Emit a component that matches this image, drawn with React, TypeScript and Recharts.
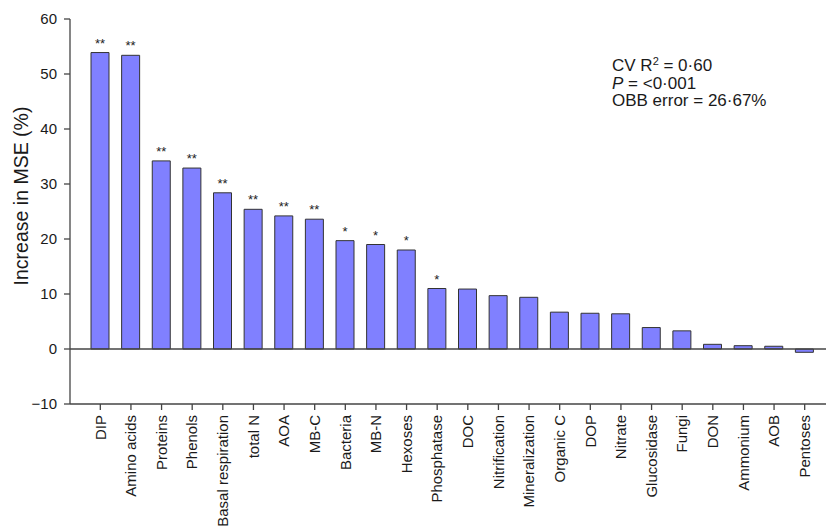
import { Bar, BarChart, LabelList, ReferenceLine, XAxis, YAxis } from "recharts";

const variables = [
  "DIP", "Amino acids", "Proteins", "Phenols", "Basal respiration", "total N",
  "AOA", "MB-C", "Bacteria", "MB-N", "Hexoses", "Phosphatase", "DOC",
  "Nitrification", "Mineralization", "Organic C", "DOP", "Nitrate",
  "Glucosidase", "Fungi", "DON", "Ammonium", "AOB", "Pentoses",
];

const mseIncrease = [
  53.9, 53.4, 34.2, 32.9, 28.4, 25.4, 24.2, 23.6, 19.7, 19.0, 18.0, 11.0,
  10.9, 9.7, 9.4, 6.7, 6.5, 6.4, 3.9, 3.3, 0.85, 0.6, 0.5, -0.6,
];

const significance = [
  "**", "**", "**", "**", "**", "**", "**", "**", "*", "*", "*", "*", "",
  "", "", "", "", "", "", "", "", "", "", "",
];

const yTicks = [-10, 0, 10, 20, 30, 40, 50, 60];

const data = variables.map((name, i) => ({
  name,
  value: mseIncrease[i],
  sig: significance[i],
}));

const FONT = "Arial, 'Liberation Sans', Helvetica, sans-serif";
const AXIS = "#444";

const XTick = ({ x, y, payload }: any) => (
  <text
    x={x}
    y={y}
    transform={`rotate(-90 ${x} ${y})`}
    textAnchor="end"
    dy="0.35em"
    fontSize={15}
    fontFamily={FONT}
    fill="#1a1a1a"
  >
    {payload.value}
  </text>
);

const YLabel = () => (
  <text
    transform="translate(21,196) rotate(-90)"
    textAnchor="middle"
    dominantBaseline="central"
    fontSize={19.5}
    fontFamily={FONT}
    fill="#1a1a1a"
  >
    Increase in MSE (%)
  </text>
);

export default function App() {
  return (
    <div style={{ position: "relative", width: 826, height: 527, background: "#fff" }}>
      <style>{"body{margin:0}"}</style>
      <BarChart
        width={826}
        height={527}
        data={data}
        margin={{ top: 19, right: 0, bottom: 3, left: 0 }}
      >
        <XAxis
          dataKey="name"
          interval={0}
          height={120}
          padding={{ left: 15, right: 6 }}
          tick={<XTick />}
          tickSize={6}
          tickMargin={5}
          axisLine={{ stroke: AXIS, strokeWidth: 1.3 }}
          tickLine={{ stroke: AXIS, strokeWidth: 1.3 }}
        />
        <YAxis
          width={70}
          domain={[-10, 60]}
          ticks={yTicks}
          interval={0}
          tickSize={6}
          tickMargin={7}
          tickFormatter={(v: number) => (v < 0 ? `\u2212${Math.abs(v)}` : `${v}`)}
          tick={{ fontSize: 15, fontFamily: FONT, fill: "#1a1a1a" }}
          axisLine={{ stroke: AXIS, strokeWidth: 1.3 }}
          tickLine={{ stroke: AXIS, strokeWidth: 1.3 }}
          label={<YLabel />}
        />
        <ReferenceLine y={0} stroke={AXIS} strokeWidth={1.3} />
        <Bar
          dataKey="value"
          fill="#8080ff"
          stroke="#333"
          strokeWidth={1}
          barSize={18}
          isAnimationActive={false}
        >
          <LabelList
            dataKey="sig"
            position="top"
            offset={5}
            fontSize={13}
            fontFamily={FONT}
            fill="#222"
          />
        </Bar>
      </BarChart>
      <div
        style={{
          position: "absolute",
          left: 612,
          top: 57,
          fontFamily: FONT,
          fontSize: 17,
          lineHeight: "17.5px",
          color: "#1a1a1a",
          whiteSpace: "nowrap",
        }}
      >
        <div>
          CV R<sup style={{ fontSize: 11, verticalAlign: "6px", lineHeight: 0 }}>2</sup> = 0·60
        </div>
        <div>
          <i>P</i> = &lt;0·001
        </div>
        <div>OBB error = 26·67%</div>
      </div>
    </div>
  );
}
